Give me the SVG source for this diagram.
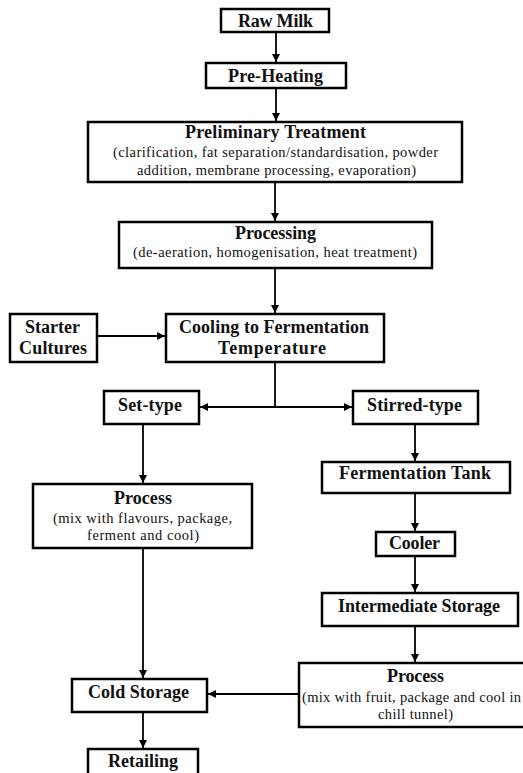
<svg xmlns="http://www.w3.org/2000/svg" width="523" height="773" viewBox="0 0 523 773">
<style>
.box{fill:#fff;stroke:#000;stroke-width:2.5}
.t{font-family:"Liberation Serif","Times New Roman",serif;font-weight:bold;font-size:18px;fill:#111;text-anchor:middle}
.s{font-family:"Liberation Serif","Times New Roman",serif;font-size:14.5px;fill:#111;text-anchor:middle}
.c{fill:none;stroke:#000;stroke-width:1.8}
</style>
<defs>
<marker id="ah" viewBox="0 0 8 8" refX="8" refY="4" markerWidth="8" markerHeight="8" markerUnits="userSpaceOnUse" orient="auto">
<path d="M0,0 L8,4 L0,8 Z" fill="#000"/>
</marker>
</defs>
<rect width="523" height="773" fill="#fff"/>
<g id="connectors">
<line class="c" x1="276" y1="32" x2="276" y2="62" marker-end="url(#ah)"/>
<line class="c" x1="276" y1="88" x2="276" y2="121" marker-end="url(#ah)"/>
<line class="c" x1="275" y1="182" x2="275" y2="221" marker-end="url(#ah)"/>
<line class="c" x1="275" y1="268" x2="275" y2="313" marker-end="url(#ah)"/>
<line class="c" x1="97" y1="336" x2="165" y2="336" marker-end="url(#ah)"/>
<line class="c" x1="275" y1="362" x2="275" y2="407"/>
<line class="c" x1="275" y1="407" x2="200" y2="407" marker-end="url(#ah)"/>
<line class="c" x1="275" y1="407" x2="352" y2="407" marker-end="url(#ah)"/>
<line class="c" x1="143" y1="424" x2="143" y2="483" marker-end="url(#ah)"/>
<line class="c" x1="143" y1="548" x2="143" y2="678" marker-end="url(#ah)"/>
<line class="c" x1="415" y1="424" x2="415" y2="461" marker-end="url(#ah)"/>
<line class="c" x1="415" y1="493" x2="415" y2="531" marker-end="url(#ah)"/>
<line class="c" x1="415" y1="556" x2="415" y2="592" marker-end="url(#ah)"/>
<line class="c" x1="415" y1="626" x2="415" y2="662" marker-end="url(#ah)"/>
<line class="c" x1="299" y1="694" x2="208" y2="694" marker-end="url(#ah)"/>
<line class="c" x1="143" y1="712" x2="143" y2="748" marker-end="url(#ah)"/>
</g>
<g id="raw-milk">
<rect class="box" x="221" y="9" width="108" height="23"/>
<text class="t" x="275.5" y="27" textLength="75">Raw Milk</text>
</g>
<g id="pre-heating">
<rect class="box" x="206" y="63" width="140" height="25"/>
<text class="t" x="275.5" y="82" textLength="95">Pre-Heating</text>
</g>
<g id="preliminary-treatment">
<rect class="box" x="88" y="122" width="374" height="60"/>
<text class="t" x="275.5" y="138" textLength="181">Preliminary Treatment</text>
<text class="s" x="275.5" y="157" textLength="325">(clarification, fat separation/standardisation, powder</text>
<text class="s" x="276.5" y="175" textLength="279">addition, membrane processing, evaporation)</text>
</g>
<g id="processing">
<rect class="box" x="119" y="222" width="313" height="46"/>
<text class="t" x="275.5" y="239" textLength="81">Processing</text>
<text class="s" x="275" y="257" textLength="284">(de-aeration, homogenisation, heat treatment)</text>
</g>
<g id="starter-cultures">
<rect class="box" x="10" y="314" width="87" height="48"/>
<text class="t" x="52.5" y="333" textLength="55">Starter</text>
<text class="t" x="53" y="354" textLength="68">Cultures</text>
</g>
<g id="cooling">
<rect class="box" x="166" y="314" width="218" height="48"/>
<text class="t" x="274" y="333" textLength="190">Cooling to Fermentation</text>
<text class="t" x="272" y="354" textLength="108">Temperature</text>
</g>
<g id="set-type">
<rect class="box" x="104" y="391" width="95" height="33"/>
<text class="t" x="150" y="411" textLength="64">Set-type</text>
</g>
<g id="stirred-type">
<rect class="box" x="353" y="391" width="125" height="33"/>
<text class="t" x="414.5" y="411" textLength="95">Stirred-type</text>
</g>
<g id="fermentation-tank">
<rect class="box" x="322" y="462" width="188" height="31"/>
<text class="t" x="415" y="479" textLength="152">Fermentation Tank</text>
</g>
<g id="process-set">
<rect class="box" x="33" y="484" width="219" height="64"/>
<text class="t" x="143" y="504" textLength="58">Process</text>
<text class="s" x="142.5" y="523" textLength="179">(mix with flavours, package,</text>
<text class="s" x="143" y="540" textLength="112">ferment and cool)</text>
</g>
<g id="cooler">
<rect class="box" x="376" y="532" width="79" height="24"/>
<text class="t" x="414.5" y="549" textLength="51">Cooler</text>
</g>
<g id="intermediate-storage">
<rect class="box" x="322" y="593" width="196" height="33"/>
<text class="t" x="419" y="612" textLength="162">Intermediate Storage</text>
</g>
<g id="process-stirred">
<rect class="box" x="299" y="663" width="240" height="64"/>
<text class="t" x="415.5" y="682" textLength="57">Process</text>
<text class="s" x="302" y="702" style="text-anchor:start" textLength="219">(mix with fruit, package and cool in</text>
<text class="s" x="415.5" y="719" textLength="75">chill tunnel)</text>
</g>
<g id="cold-storage">
<rect class="box" x="72" y="679" width="135" height="33"/>
<text class="t" x="138.5" y="698" textLength="101">Cold Storage</text>
</g>
<g id="retailing">
<rect class="box" x="88" y="749" width="110" height="30"/>
<text class="t" x="143" y="767" textLength="70">Retailing</text>
</g>
</svg>
